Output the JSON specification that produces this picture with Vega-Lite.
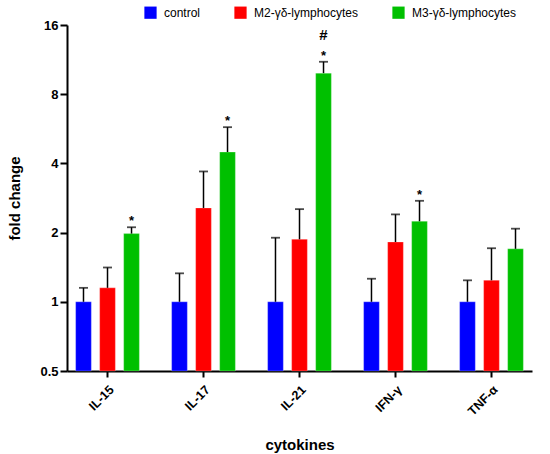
{
  "$schema": "https://vega.github.io/schema/vega-lite/v6.json",
  "autosize": "none",
  "width": 465,
  "height": 346,
  "padding": {"left": 67, "top": 25, "right": 18, "bottom": 83},
  "background": "white",
  "config": {
    "view": {"stroke": null},
    "font": "Liberation Sans"
  },
  "data": {
    "values": [
      {"cytokine": "IL-15", "group": "control", "value": 1.0, "upper": 1.15},
      {"cytokine": "IL-15", "group": "M2-γδ-lymphocytes", "value": 1.15, "upper": 1.41},
      {"cytokine": "IL-15", "group": "M3-γδ-lymphocytes", "value": 1.98, "upper": 2.11, "sig": "*"},
      {"cytokine": "IL-17", "group": "control", "value": 1.0, "upper": 1.33},
      {"cytokine": "IL-17", "group": "M2-γδ-lymphocytes", "value": 2.56, "upper": 3.69},
      {"cytokine": "IL-17", "group": "M3-γδ-lymphocytes", "value": 4.48, "upper": 5.75, "sig": "*"},
      {"cytokine": "IL-21", "group": "control", "value": 1.0, "upper": 1.9},
      {"cytokine": "IL-21", "group": "M2-γδ-lymphocytes", "value": 1.87, "upper": 2.53},
      {"cytokine": "IL-21", "group": "M3-γδ-lymphocytes", "value": 9.88, "upper": 11.07, "sig": "*", "sig2": "#"},
      {"cytokine": "IFN-γ", "group": "control", "value": 1.0, "upper": 1.26},
      {"cytokine": "IFN-γ", "group": "M2-γδ-lymphocytes", "value": 1.82, "upper": 2.4},
      {"cytokine": "IFN-γ", "group": "M3-γδ-lymphocytes", "value": 2.24, "upper": 2.75, "sig": "*"},
      {"cytokine": "TNF-α", "group": "control", "value": 1.0, "upper": 1.24},
      {"cytokine": "TNF-α", "group": "M2-γδ-lymphocytes", "value": 1.24, "upper": 1.71},
      {"cytokine": "TNF-α", "group": "M3-γδ-lymphocytes", "value": 1.7, "upper": 2.08}
    ]
  },
  "encoding": {
    "x": {
      "field": "cytokine",
      "type": "nominal",
      "sort": ["IL-15", "IL-17", "IL-21", "IFN-γ", "TNF-α"],
      "scale": {"paddingInner": 0.336, "paddingOuter": 0.09},
      "title": "cytokines",
      "axis": {
        "labelAngle": -45,
        "labelFont": "Liberation Sans",
        "labelFontWeight": "bold",
        "labelFontSize": 12.5,
        "labelColor": "black",
        "labelPadding": 6,
        "domainColor": "black",
        "domainWidth": 2,
        "tickColor": "black",
        "tickWidth": 2,
        "tickSize": 6,
        "titleFont": "Liberation Sans",
        "titleFontSize": 15,
        "titleFontWeight": "bold",
        "titleColor": "black",
        "titlePadding": 20
      }
    },
    "xOffset": {
      "field": "group",
      "type": "nominal",
      "sort": ["control", "M2-γδ-lymphocytes", "M3-γδ-lymphocytes"],
      "scale": {"paddingInner": 0.346, "paddingOuter": 0}
    }
  },
  "layer": [
    {
      "mark": {"type": "bar", "stroke": "white", "strokeWidth": 0.5, "strokeOpacity": 0.5},
      "encoding": {
        "y": {
          "field": "value",
          "type": "quantitative",
          "scale": {"type": "log", "base": 2, "domain": [0.5, 16], "nice": false},
          "title": "fold change",
          "axis": {
            "values": [0.5, 1, 2, 4, 8, 16],
            "format": "~g",
            "grid": false,
            "labelFont": "Liberation Sans",
            "labelFontWeight": "bold",
            "labelFontSize": 13,
            "labelColor": "black",
            "labelPadding": 2,
            "domainColor": "black",
            "domainWidth": 2,
            "tickColor": "black",
            "tickWidth": 2,
            "tickSize": 7,
            "titleFont": "Liberation Sans",
            "titleFontSize": 15,
            "titleFontWeight": "bold",
            "titleColor": "black",
            "titlePadding": 17
          }
        },
        "y2": {"datum": 0.5},
        "color": {
          "field": "group",
          "type": "nominal",
          "sort": ["control", "M2-γδ-lymphocytes", "M3-γδ-lymphocytes"],
          "scale": {"range": ["#0000FF", "#FF0000", "#00C000"]},
          "legend": {
            "title": null,
            "orient": "none",
            "legendX": 77,
            "legendY": -19,
            "direction": "horizontal",
            "columns": 3,
            "columnPadding": 33,
            "symbolType": "square",
            "symbolSize": 150,
            "symbolStrokeWidth": 0,
            "labelFont": "Liberation Sans",
            "labelFontSize": 12,
            "labelColor": "black",
            "labelOffset": 7
          }
        }
      }
    },
    {
      "mark": {"type": "rule", "color": "black", "strokeWidth": 1.5},
      "encoding": {
        "y": {"field": "value", "type": "quantitative"},
        "y2": {"field": "upper"}
      }
    },
    {
      "mark": {"type": "tick", "color": "black", "thickness": 1.8, "size": 9},
      "encoding": {
        "y": {"field": "upper", "type": "quantitative"}
      }
    },
    {
      "transform": [{"filter": "isValid(datum.sig)"}],
      "mark": {"type": "text", "color": "black", "fontSize": 13, "fontWeight": "bold", "baseline": "alphabetic", "dy": -2},
      "encoding": {
        "y": {"field": "upper", "type": "quantitative"},
        "text": {"field": "sig"}
      }
    },
    {
      "transform": [{"filter": "isValid(datum.sig2)"}],
      "mark": {"type": "text", "color": "black", "fontSize": 15, "fontWeight": "bold", "baseline": "alphabetic", "dy": -22},
      "encoding": {
        "y": {"field": "upper", "type": "quantitative"},
        "text": {"field": "sig2"}
      }
    }
  ]
}
